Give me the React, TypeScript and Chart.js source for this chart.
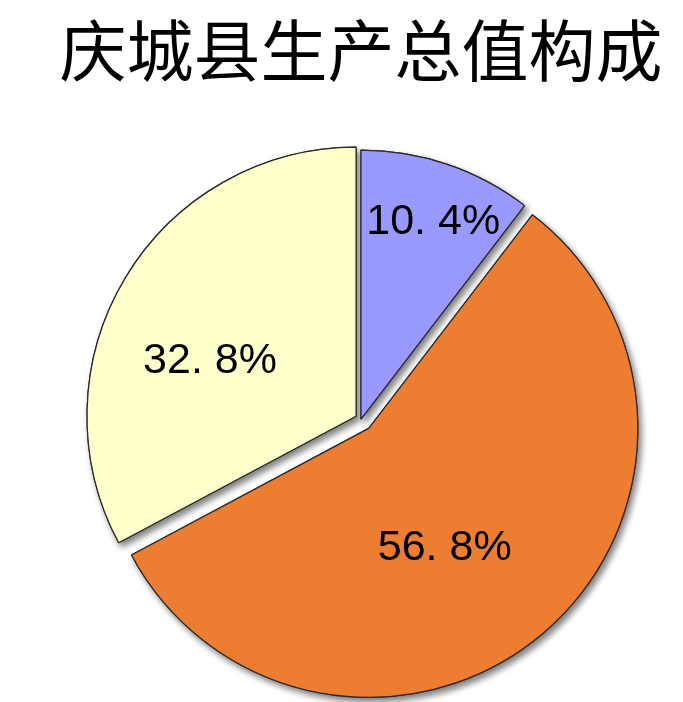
import React, { useEffect, useRef } from 'react';
import { Chart, registerables } from 'chart.js';

Chart.register(...registerables);

const TITLE = '庆城县生产总值构成';
const categories = ['第一产业', '第二产业', '第三产业'];
const shares = [10.4, 56.8, 32.8];
const sliceColors = ['#9999FF', '#ED7D31', '#FFFFCC'];

// styling only: how far each slice is pulled out, and where its label sits
const explodePx = [0, 12, 5.8];
const labelFrac = [0.78, 0.528, 0.58];
const labelShiftDeg = [1.4, 8, -10.3];

const explodePlugin = {
  id: 'explodeShadow',
  beforeDatasetDraw(chart: any, args: any) {
    const ctx = chart.ctx;
    const arcs = args.meta.data;
    const draw = (withShadow: boolean) => {
      arcs.forEach((arc: any, i: number) => {
        const mid = (arc.startAngle + arc.endAngle) / 2;
        const o = explodePx[i] || 0;
        ctx.save();
        if (withShadow) {
          ctx.shadowColor = 'rgba(0,0,0,0.5)';
          ctx.shadowOffsetX = 3;
          ctx.shadowOffsetY = 4;
          ctx.shadowBlur = 6;
        }
        ctx.translate(Math.cos(mid) * o, Math.sin(mid) * o);
        arc.draw(ctx);
        ctx.restore();
      });
    };
    draw(true);
    draw(false);
    return false;
  },
  afterDatasetsDraw(chart: any) {
    const ctx = chart.ctx;
    const meta = chart.getDatasetMeta(0);
    const values = chart.data.datasets[0].data as number[];
    ctx.save();
    ctx.fillStyle = '#000';
    ctx.font = '43px "Liberation Sans", Arial, sans-serif';
    ctx.textAlign = 'center';
    ctx.textBaseline = 'middle';
    meta.data.forEach((arc: any, i: number) => {
      const mid = (arc.startAngle + arc.endAngle) / 2;
      const o = explodePx[i] || 0;
      const cx = arc.x + Math.cos(mid) * o;
      const cy = arc.y + Math.sin(mid) * o;
      const a = mid + (labelShiftDeg[i] * Math.PI) / 180;
      const r = arc.outerRadius * labelFrac[i];
      const text = values[i].toFixed(1).replace('.', '. ') + '%';
      ctx.fillText(text, cx + Math.cos(a) * r, cy + Math.sin(a) * r);
    });
    ctx.restore();
  },
};

export default function App() {
  const ref = useRef<HTMLCanvasElement | null>(null);

  useEffect(() => {
    if (!ref.current) return;
    const chart = new Chart(ref.current, {
      type: 'pie',
      data: {
        labels: categories,
        datasets: [
          {
            data: shares,
            backgroundColor: sliceColors,
            borderColor: '#2a2a2a',
            borderWidth: 1.2,
            radius: 269,
          } as any,
        ],
      },
      options: {
        responsive: false,
        animation: false,
        events: [],
        layout: { padding: { left: 39, right: 0, top: 0, bottom: 0 } },
        plugins: {
          legend: { display: false },
          tooltip: { enabled: false },
          title: {
            display: true,
            text: TITLE,
            color: '#000',
            font: { family: '"Noto Sans CJK SC", sans-serif', size: 67, weight: 'normal', lineHeight: 1.2 },
            padding: { top: 10, bottom: 46 },
          },
        },
      } as any,
      plugins: [explodePlugin as any],
    });
    return () => chart.destroy();
  }, []);

  return (
    <div style={{ position: 'absolute', left: 0, top: 0, width: 683, height: 702, background: '#fff' }}>
      <canvas ref={ref} width={683} height={702} />
    </div>
  );
}
